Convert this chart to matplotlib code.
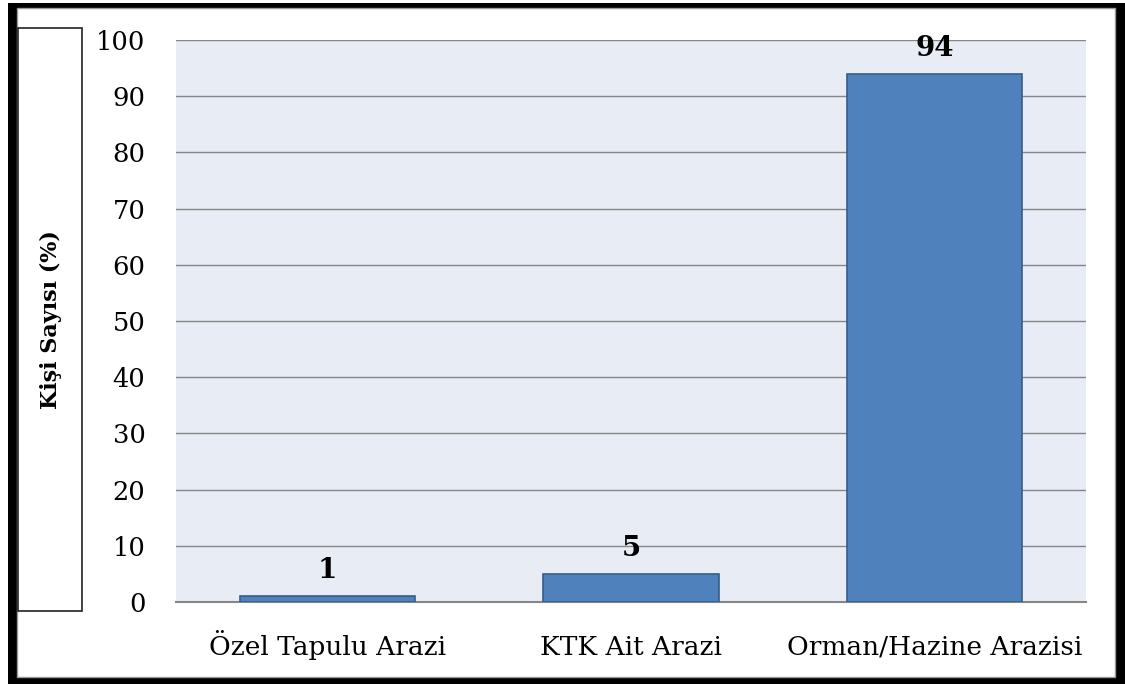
import matplotlib.pyplot as plt
from matplotlib.patches import Rectangle

categories = ["Özel Tapulu Arazi", "KTK Ait Arazi", "Orman/Hazine Arazisi"]
values = [1, 5, 94]
y_ticks = [0, 10, 20, 30, 40, 50, 60, 70, 80, 90, 100]
y_label = "Kişi Sayısı (%)"

W, H = 1125, 684
plt.rcParams["font.family"] = ["DejaVu Serif"]

fig = plt.figure(figsize=(W / 100, H / 100), dpi=100, facecolor="white")


def px_rect(x0, y0, x1, y1, **kw):
    # pixel coords (top-left origin) -> figure fraction
    r = Rectangle((x0 / W, 1 - y1 / H), (x1 - x0) / W, (y1 - y0) / H,
                  transform=fig.transFigure, zorder=-5, **kw)
    fig.patches.append(r)


# outer frame with shadow
px_rect(8, 3, 1125, 684, facecolor="black", edgecolor="none")
px_rect(17, 8, 1115, 677, facecolor="white", edgecolor="#9a9a9a", linewidth=1)
# y-label box
px_rect(18, 28, 82, 611, facecolor="white", edgecolor="#222222", linewidth=1.2)

ax = fig.add_axes([176 / W, 1 - 602 / H, (1086 - 176) / W, (602 - 40) / H])
ax.set_facecolor("#E8ECF4")

x = range(len(categories))
bars = ax.bar(x, values, width=0.577, color="#4F81BD", edgecolor="#385D8A",
              linewidth=1.2, zorder=3)

for b, v in zip(bars, values):
    ax.annotate(str(v), (b.get_x() + b.get_width() / 2, v),
                xytext=(0, 13), textcoords="offset points",
                ha="center", va="baseline", fontsize=20, fontweight="bold")

ax.set_xlim(-0.5, 2.5)
ax.set_ylim(0, 100)
ax.set_yticks(y_ticks)
ax.set_xticks(list(x))
ax.set_xticklabels(categories, va="baseline")
ax.yaxis.grid(True, color="#868686", linewidth=1, zorder=0)
ax.set_axisbelow(True)

for side in ["top", "right", "left"]:
    ax.spines[side].set_visible(False)
ax.spines["bottom"].set_color("#868686")
ax.spines["bottom"].set_linewidth(1.5)

ax.tick_params(axis="y", length=0, pad=22, labelsize=18.5)
ax.tick_params(axis="x", length=0, pad=38, labelsize=19)

fig.text(51 / W, 1 - 320 / H, y_label, rotation=90, ha="center", va="center",
         fontsize=16, fontweight="bold")

fig.savefig("out.png", dpi=100, facecolor=fig.get_facecolor())
